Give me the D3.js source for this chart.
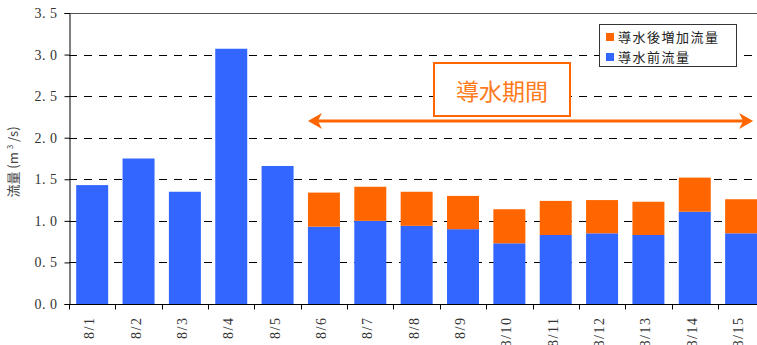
<!DOCTYPE html>
<html>
<head>
<meta charset="utf-8">
<script src="https://cdn.jsdelivr.net/npm/d3@7"></script>
<style>
  body { margin: 0; background: #fff; }
  svg { display: block; }
</style>
</head>
<body>
<div id="viz"></div>
<script>
let dates = ['8/1','8/2','8/3','8/4','8/5','8/6','8/7','8/8','8/9','8/10','8/11','8/12','8/13','8/14','8/15'];
let before = [1.43, 1.75, 1.35, 3.07, 1.66, 0.93, 1.00, 0.94, 0.90, 0.73, 0.83, 0.85, 0.83, 1.11, 0.85];
let added = [0, 0, 0, 0, 0, 0.41, 0.41, 0.41, 0.40, 0.41, 0.41, 0.40, 0.40, 0.41, 0.41];
let yTicks = [0, 0.5, 1.0, 1.5, 2.0, 2.5, 3.0, 3.5];
let legendLabels = ['導水後増加流量', '導水前流量'];
let periodLabel = '導水期間';
let periodStart = '8/6', periodEnd = '8/15';

let width = 757, height = 345,
    margin = { top: 13, left: 69, bottom: 41 },
    plotRight = 764.3,
    blue = '#3366ff', orange = '#ff6600';

let svg = d3.select('#viz').append('svg')
  .attr('width', width)
  .attr('height', height);

let xScale = d3.scaleBand()
  .domain(dates)
  .range([margin.left, plotRight])
  .paddingInner(0.31)
  .paddingOuter(0.155);

let yScale = d3.scaleLinear()
  .domain([0, 3.5])
  .range([height - margin.bottom, margin.top]);

// grid
svg.append('g').selectAll('line')
  .data(yTicks.filter(function(d) { return d > 0 && d < 3.5; }))
  .enter().append('line')
  .attr('x1', margin.left).attr('x2', width)
  .attr('y1', function(d) { return Math.round(yScale(d)) + 0.5; })
  .attr('y2', function(d) { return Math.round(yScale(d)) + 0.5; })
  .attr('stroke', '#000')
  .attr('stroke-dasharray', '8,7');

svg.append('line')
  .attr('x1', margin.left).attr('x2', width)
  .attr('y1', Math.round(yScale(3.5)) + 0.5).attr('y2', Math.round(yScale(3.5)) + 0.5)
  .attr('stroke', '#555');

// bars
let stack = dates.map(function(d, i) { return { date: d, b: before[i], a: added[i] }; });

svg.append('g').selectAll('rect')
  .data(stack)
  .enter().append('rect')
  .attr('x', function(d) { return xScale(d.date); })
  .attr('width', xScale.bandwidth())
  .attr('y', function(d) { return yScale(d.b); })
  .attr('height', function(d) { return yScale(0) - yScale(d.b); })
  .attr('fill', blue);

svg.append('g').selectAll('rect')
  .data(stack.filter(function(d) { return d.a > 0; }))
  .enter().append('rect')
  .attr('x', function(d) { return xScale(d.date); })
  .attr('width', xScale.bandwidth())
  .attr('y', function(d) { return yScale(d.b + d.a); })
  .attr('height', function(d) { return yScale(d.b) - yScale(d.b + d.a); })
  .attr('fill', orange);

// y axis
let yGuide = svg.append('g')
  .attr('transform', 'translate(' + (margin.left + 0.5) + ',0)')
  .call(d3.axisLeft(yScale).tickValues(yTicks).tickSize(5).tickPadding(7)
    .tickFormat(function(d) { return d3.format('.1f')(d).replace('.', '. '); }));
yGuide.select('.domain').attr('stroke', '#000');
yGuide.selectAll('text')
  .attr('font-family', '"Liberation Serif", serif')
  .attr('font-size', 14)
  .attr('letter-spacing', 0.5)
  .style('white-space', 'pre')
  .attr('fill', '#333');

// x axis
let baseY = Math.round(yScale(0)) + 0.5;
svg.append('line')
  .attr('x1', margin.left).attr('x2', width)
  .attr('y1', baseY).attr('y2', baseY)
  .attr('stroke', '#000');

let step = xScale.step();
svg.append('g').selectAll('line')
  .data(dates)
  .enter().append('line')
  .attr('x1', function(d) { return Math.round(xScale(d) - step * xScale.paddingInner() / 2) + 0.5; })
  .attr('x2', function(d) { return Math.round(xScale(d) - step * xScale.paddingInner() / 2) + 0.5; })
  .attr('y1', baseY).attr('y2', baseY + 5)
  .attr('stroke', '#000');

svg.append('g').selectAll('text')
  .data(dates)
  .enter().append('text')
  .attr('transform', function(d) {
    return 'translate(' + (xScale(d) + xScale.bandwidth() / 2 + 2) + ',' + (baseY + 12) + ') rotate(-90)';
  })
  .attr('text-anchor', 'end')
  .attr('font-family', '"Liberation Serif", serif')
  .attr('font-size', 14)
  .attr('letter-spacing', 1.5)
  .attr('fill', '#333')
  .text(function(d) { return d; });

// y title
let yTitle = svg.append('text')
  .attr('transform', 'translate(18,' + 162 + ') rotate(-90)')
  .attr('text-anchor', 'middle')
  .attr('font-family', '"Noto Sans CJK JP", sans-serif')
  .attr('font-size', 13)
  .attr('fill', '#444');
yTitle.append('tspan').text('流量 (m ');
yTitle.append('tspan').attr('font-size', 8).attr('dy', -5).text('3');
yTitle.append('tspan').attr('dy', 5).text(' /s)');

// legend
let legend = svg.append('g');
legend.append('rect')
  .attr('x', 599.5).attr('y', 24.5).attr('width', 137).attr('height', 42)
  .attr('fill', '#fff').attr('stroke', '#333');
[orange, blue].forEach(function(c, i) {
  legend.append('rect')
    .attr('x', 606).attr('y', 33 + i * 20).attr('width', 8).attr('height', 8)
    .attr('fill', c);
  legend.append('text')
    .attr('x', 618).attr('y', 42 + i * 20)
    .attr('font-family', '"Noto Sans CJK JP", sans-serif')
    .attr('font-size', 13)
    .attr('letter-spacing', 1.5)
    .attr('fill', '#222')
    .text(legendLabels[i]);
});

// period annotation
svg.append('rect')
  .attr('x', 434).attr('y', 63).attr('width', 136).attr('height', 53)
  .attr('fill', '#fff').attr('stroke', orange).attr('stroke-width', 2);
svg.append('text')
  .attr('x', 502).attr('y', 100)
  .attr('text-anchor', 'middle')
  .attr('font-family', '"Noto Sans CJK JP", sans-serif')
  .attr('font-size', 23)
  .attr('fill', '#ff7a1a')
  .text(periodLabel);

let ax1 = xScale(periodStart), ax2 = xScale(periodEnd) + xScale.bandwidth() - 4, ay = 121;
svg.append('line')
  .attr('x1', ax1 + 6).attr('x2', ax2 - 6)
  .attr('y1', ay).attr('y2', ay)
  .attr('stroke', orange).attr('stroke-width', 3);
svg.append('path')
  .attr('d', 'M' + ax1 + ',' + ay + 'L' + (ax1 + 14) + ',' + (ay - 8) + 'L' + (ax1 + 10) + ',' + ay + 'L' + (ax1 + 14) + ',' + (ay + 8) + 'Z')
  .attr('fill', orange);
svg.append('path')
  .attr('d', 'M' + ax2 + ',' + ay + 'L' + (ax2 - 14) + ',' + (ay - 8) + 'L' + (ax2 - 10) + ',' + ay + 'L' + (ax2 - 14) + ',' + (ay + 8) + 'Z')
  .attr('fill', orange);
</script>
</body>
</html>
